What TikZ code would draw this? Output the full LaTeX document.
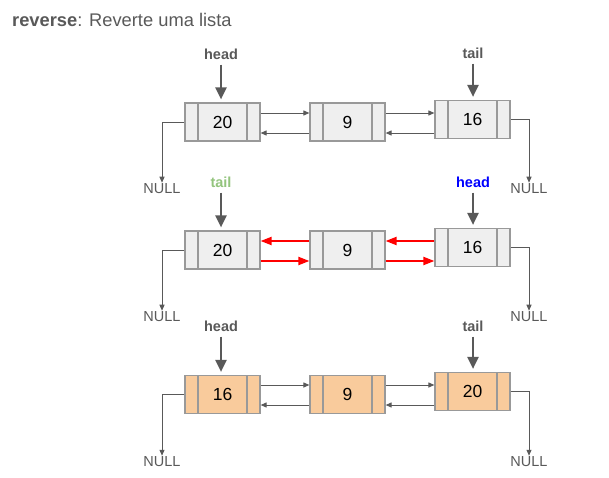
\documentclass[tikz,border=0pt]{standalone}
\usepackage{fontspec}
\setmainfont{Liberation Sans}
\usetikzlibrary{arrows.meta}
\definecolor{txtgray}{HTML}{595959}
\definecolor{boxgray}{HTML}{999999}
\definecolor{cellgray}{HTML}{EFEFEF}
\definecolor{cellorange}{HTML}{F9CB9C}
\definecolor{tailgreen}{HTML}{93C47D}
\begin{document}
\begin{tikzpicture}[x=1pt,y=-1pt,
  cell/.style={draw=boxgray, line width=1.2pt, fill=cellgray, minimum width=75pt, minimum height=38pt,
    inner sep=0pt, font=\fontsize{17.5}{17.5}\selectfont,
    path picture={\draw[boxgray, line width=1.2pt]
      ([xshift=13pt]path picture bounding box.north west) -- ([xshift=13pt]path picture bounding box.south west)
      ([xshift=-13pt]path picture bounding box.north east) -- ([xshift=-13pt]path picture bounding box.south east);}},
  orange/.style={cell, fill=cellorange},
  lbl/.style={text=txtgray, font=\fontsize{14.5}{14.5}\selectfont\bfseries, inner sep=1pt},
  nul/.style={text=txtgray, font=\fontsize{14.5}{14.5}\selectfont, inner sep=1pt},
  link/.style={draw=txtgray, line width=1pt, -{Triangle[length=6pt,width=5pt]}},
  ptr/.style={draw=txtgray, line width=2.2pt, -{Triangle[length=12pt,width=11pt]}, shorten <=4pt, shorten >=3pt},
  redarr/.style={draw=red, line width=2pt, -{Triangle[length=11pt,width=8pt]}}]
\useasboundingbox (0,0) rectangle (609,477);
\node[anchor=west, text=txtgray, font=\fontsize{18.3}{18.3}\selectfont, inner sep=0pt] (title) at (12,20)
  {\textbf{reverse}: Reverte uma lista};

\node[cell] (a20) at (222.5,122){20};
\node[cell] (a9) at (347.5,122){9};
\node[cell] (a16) at (472.5,119.5){16};
\draw[link] ([yshift=9pt]a20.east) -- ([yshift=9pt]a9.west);
\draw[link] ([yshift=-11pt]a9.west) -- ([yshift=-11pt]a20.east);
\draw[link] ([yshift=9pt]a9.east) -- ([yshift=9pt]a9.east -| a16.west);
\draw[link] ([yshift=-11pt]a9.east -| a16.west) -- ([yshift=-11pt]a9.east);
\node[lbl] (ahead) at (221,54){head};
\node[lbl] (atail) at (473,53){tail};
\draw[ptr] (ahead) -- (ahead |- a20.north);
\draw[ptr] (atail) -- (atail |- a16.north);
\node[nul] (anull0) at (162,189){NULL};
\node[nul] (anull1) at (529,189){NULL};
\draw[link] (a20.west) -| (anull0.north);
\draw[link] (a16.east) -| (anull1.north);

\node[cell] (b20) at (222.5,250){20};
\node[cell] (b9) at (347.5,250){9};
\node[cell] (b16) at (472.5,247.5){16};
\draw[redarr] ([yshift=9pt]b9.west) -- ([yshift=9pt]b20.east);
\draw[redarr] ([yshift=-11pt]b20.east) -- ([yshift=-11pt]b9.west);
\draw[redarr] ([yshift=9pt]b9.east -| b16.west) -- ([yshift=9pt]b9.east);
\draw[redarr] ([yshift=-11pt]b9.east) -- ([yshift=-11pt]b9.east -| b16.west);
\node[lbl, text=tailgreen] (btail) at (221,182){tail};
\node[lbl, text=blue] (bhead) at (473,182){head};
\draw[ptr] (btail) -- (btail |- b20.north);
\draw[ptr] (bhead) -- (bhead |- b16.north);
\node[nul] (bnull0) at (162,317){NULL};
\node[nul] (bnull1) at (529,317){NULL};
\draw[link] (b20.west) -| (bnull0.north);
\draw[link] (b16.east) -| (bnull1.north);

\node[orange] (c16) at (222.5,394.5){16};
\node[orange] (c9) at (347.5,394.5){9};
\node[orange] (c20) at (472.5,391.5){20};
\draw[link] ([yshift=9.5pt]c16.east) -- ([yshift=9.5pt]c9.west);
\draw[link] ([yshift=-10.5pt]c9.west) -- ([yshift=-10.5pt]c16.east);
\draw[link] ([yshift=9.5pt]c9.east) -- ([yshift=9.5pt]c9.east -| c20.west);
\draw[link] ([yshift=-10.5pt]c9.east -| c20.west) -- ([yshift=-10.5pt]c9.east);
\node[lbl] (chead) at (221,326){head};
\node[lbl] (ctail) at (473,326){tail};
\draw[ptr] (chead) -- (chead |- c16.north);
\draw[ptr] (ctail) -- (ctail |- c20.north);
\node[nul] (cnull0) at (162,462){NULL};
\node[nul] (cnull1) at (529,462){NULL};
\draw[link] (c16.west) -| (cnull0.north);
\draw[link] (c20.east) -| (cnull1.north);

\end{tikzpicture}
\end{document}
